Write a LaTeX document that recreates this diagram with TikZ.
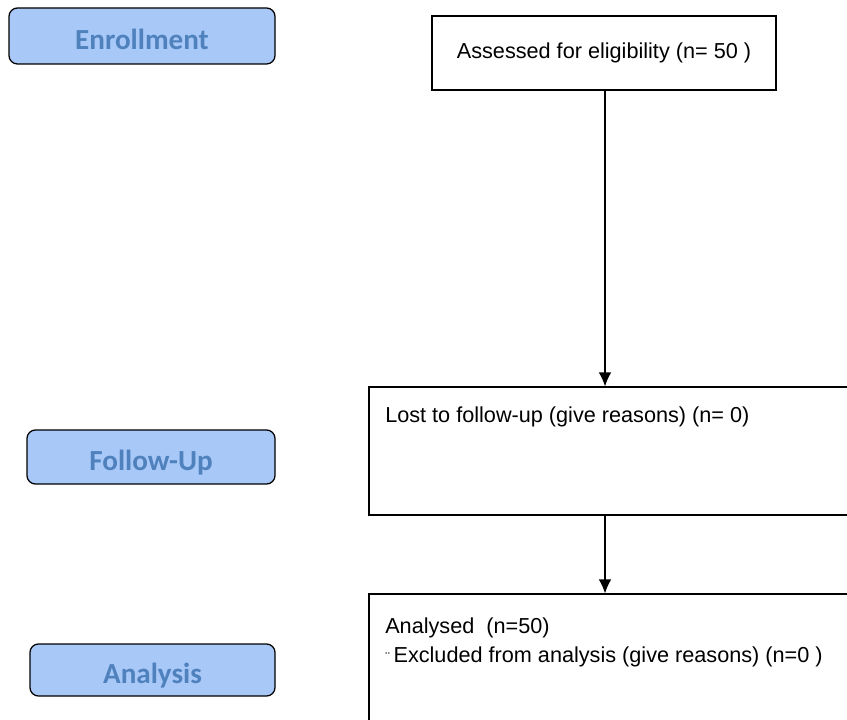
\documentclass[tikz,border=0pt]{standalone}
\usepackage{fontspec}
\setmainfont{Liberation Sans}
\newfontfamily\stagefont{Carlito}
\usetikzlibrary{arrows.meta,positioning}

\definecolor{stagefill}{HTML}{A8C8F8}
\definecolor{stagetext}{HTML}{4F81BD}

\tikzset{
  stage/.style={draw=black,line width=0.9pt,rounded corners=6pt,fill=stagefill,
    text=stagetext,font=\stagefont\bfseries\fontsize{20.7}{24}\selectfont,inner sep=0pt,
    text height=20pt,text depth=1pt},
  flowbox/.style={draw=black,line width=0.8pt,inner sep=0pt},
  boxtext/.style={anchor=west,inner sep=0pt,font=\fontsize{15.4}{18}\selectfont},
  flow/.style={-{Latex[length=10pt,width=9pt]},line width=0.9pt}
}

\begin{document}
\begin{tikzpicture}[x=0.025cm,y=-0.025cm]
                \useasboundingbox (0,0) rectangle (847,720);
                \clip (0,0) rectangle (847,720);

                % Stage labels
                \node[stage,minimum width=266*0.025cm,minimum height=56*0.025cm] (enrol) at (142,36) {Enrollment};
                \node[stage,minimum width=248*0.025cm,minimum height=54*0.025cm] (follow) at (151,457) {Follow-Up};
                \node[stage,minimum width=245*0.025cm,minimum height=52*0.025cm] (analysis) at (152.5,670) {Analysis};

                % Flow boxes
                \node[flowbox,minimum width=344*0.025cm,minimum height=74*0.025cm,font=\fontsize{15.4}{18}\selectfont] (assessed) at (604,53) {Assessed for eligibility (n= 50 )};
                \node[flowbox,minimum width=531*0.025cm,minimum height=128*0.025cm] (lost) at (634.5,451) {};
                \node[flowbox,minimum width=531*0.025cm,minimum height=160*0.025cm] (analysed) at (634.5,674) {};

                % Box texts
                \node[boxtext] (losttxt) at (385,417) {Lost to follow-up (give reasons) (n= 0)};
                \node[boxtext] (antxt1) at (385,628) {Analysed\ \ (n=50)};
                \node[boxtext] (antxt2) at (385,657) {{\fontsize{10}{11}\selectfont ¨}\,Excluded from analysis (give reasons) (n=0 )};

                % Arrows
                \draw[flow] (assessed.south -| 605,0) -- (lost.north -| 605,0);
                \draw[flow] (lost.south -| 605,0) -- (analysed.north -| 605,0);
\end{tikzpicture}
\end{document}
